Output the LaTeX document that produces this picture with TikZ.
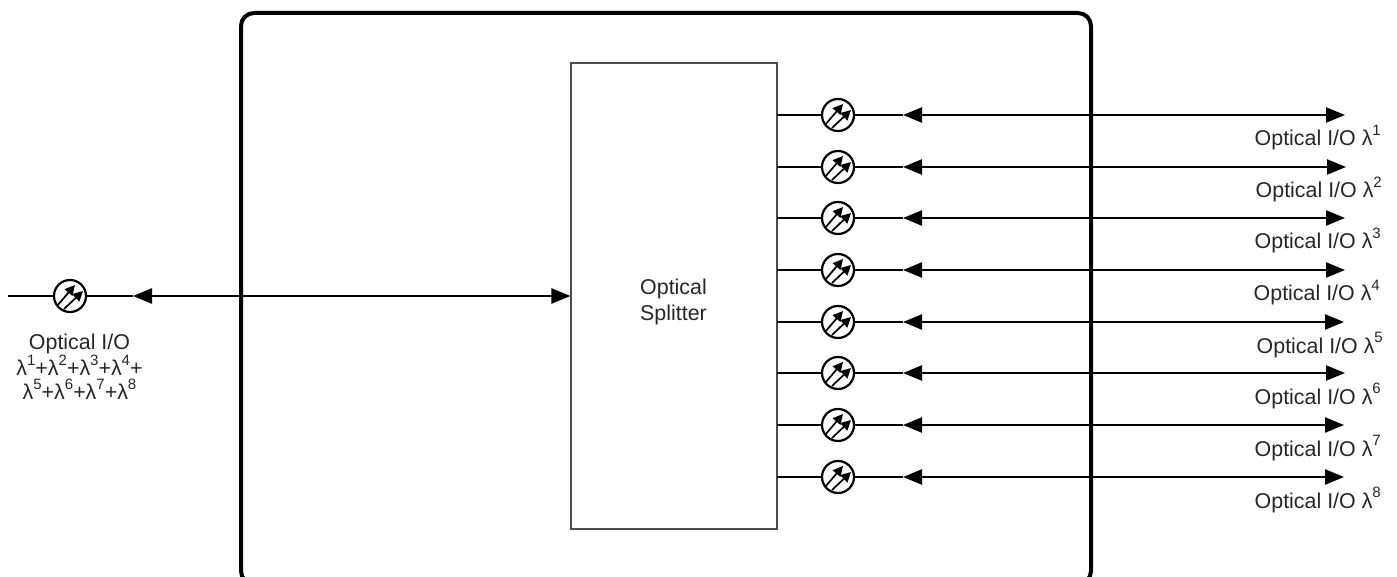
\documentclass[tikz,border=0pt]{standalone}
\usepackage{fontspec}
\setmainfont{Liberation Sans}
\usetikzlibrary{arrows.meta}
\tikzset{
  x=1pt,y=-1pt,
  outerbox/.style={draw=black,line width=4pt,rounded corners=13pt},
  splitterbox/.style={draw=black!70,line width=1.1pt,fill=white,minimum width=206pt,minimum height=466pt,inner sep=0pt,align=center},
  attenuator/.style={draw=black,line width=2.2pt,circle,fill=white,minimum size=32pt,inner sep=0pt},
  wire/.style={draw=black,line width=2.4pt},
  biarrow/.style={draw=black,line width=2.4pt,{Triangle[length=19pt,width=15pt]}-{Triangle[length=19pt,width=15pt]}},
  innerarrow/.style={draw=black,line width=1.7pt,-{Triangle[length=10pt,width=10pt]}},
  txt/.style={font=\fontsize{21.4pt}{24.5pt}\selectfont,inner sep=0pt,text=black!85,align=center}
}
\newcommand{\attarrows}[1]{%
  \draw[innerarrow] ([shift={(-13,10)}]#1.center) -- ([shift={(5,-11)}]#1.center);
  \draw[innerarrow] ([shift={(-6,13)}]#1.center) -- ([shift={(13,-5)}]#1.center);
}
\newcommand{\upidx}[1]{\raisebox{0.48em}{\fontsize{15pt}{15pt}\selectfont #1}}
\begin{document}
\begin{tikzpicture}
\useasboundingbox (0,0) rectangle (1397,577);
\clip (0,0) rectangle (1397,577);
\coordinate (tl) at (241,13);
\coordinate (br) at (1091,584);
\draw[outerbox] (tl) rectangle (br);

\coordinate (inL) at (8,296);
\coordinate (tipL) at (133,296);
\node[splitterbox] (split) at (674,296) {};
\node[txt] (splitlabel) at (673.5,302) {Optical\\[2pt]Splitter};
\node[attenuator] (attL) at (70,296) {};
\draw[wire] (inL) -- (attL);
\draw[wire] (attL) -- (tipL);
\draw[biarrow] (tipL) -- (split.west |- tipL);
\attarrows{attL}
\node[txt] (labL) at (79.5,367) {Optical I/O\\[-0.5pt]λ\upidx{1}+λ\upidx{2}+λ\upidx{3}+λ\upidx{4}+\\[0pt]λ\upidx{5}+λ\upidx{6}+λ\upidx{7}+λ\upidx{8}};

\foreach \i/\y/\xe/\lx in {1/115/1345/1381,2/167/1346/1382,3/218/1345/1381,4/270/1345/1380,5/322/1344/1383,6/373/1345/1381,7/425/1344/1381,8/477/1344/1381}{
  \coordinate (from\i) at (777,\y);
  \coordinate (near\i) at (903,\y);
  \coordinate (far\i) at (\xe,\y);
  \node[attenuator] (att\i) at (838,\y) {};
  \draw[wire] (from\i) -- (att\i);
  \draw[wire] (att\i) -- (near\i);
  \draw[biarrow] (near\i) -- (far\i);
  \attarrows{att\i}
  \node[txt,anchor=base east] (lab\i) at (\lx,\y+31) {Optical I/O λ\upidx{\i}};
}
\end{tikzpicture}
\end{document}
